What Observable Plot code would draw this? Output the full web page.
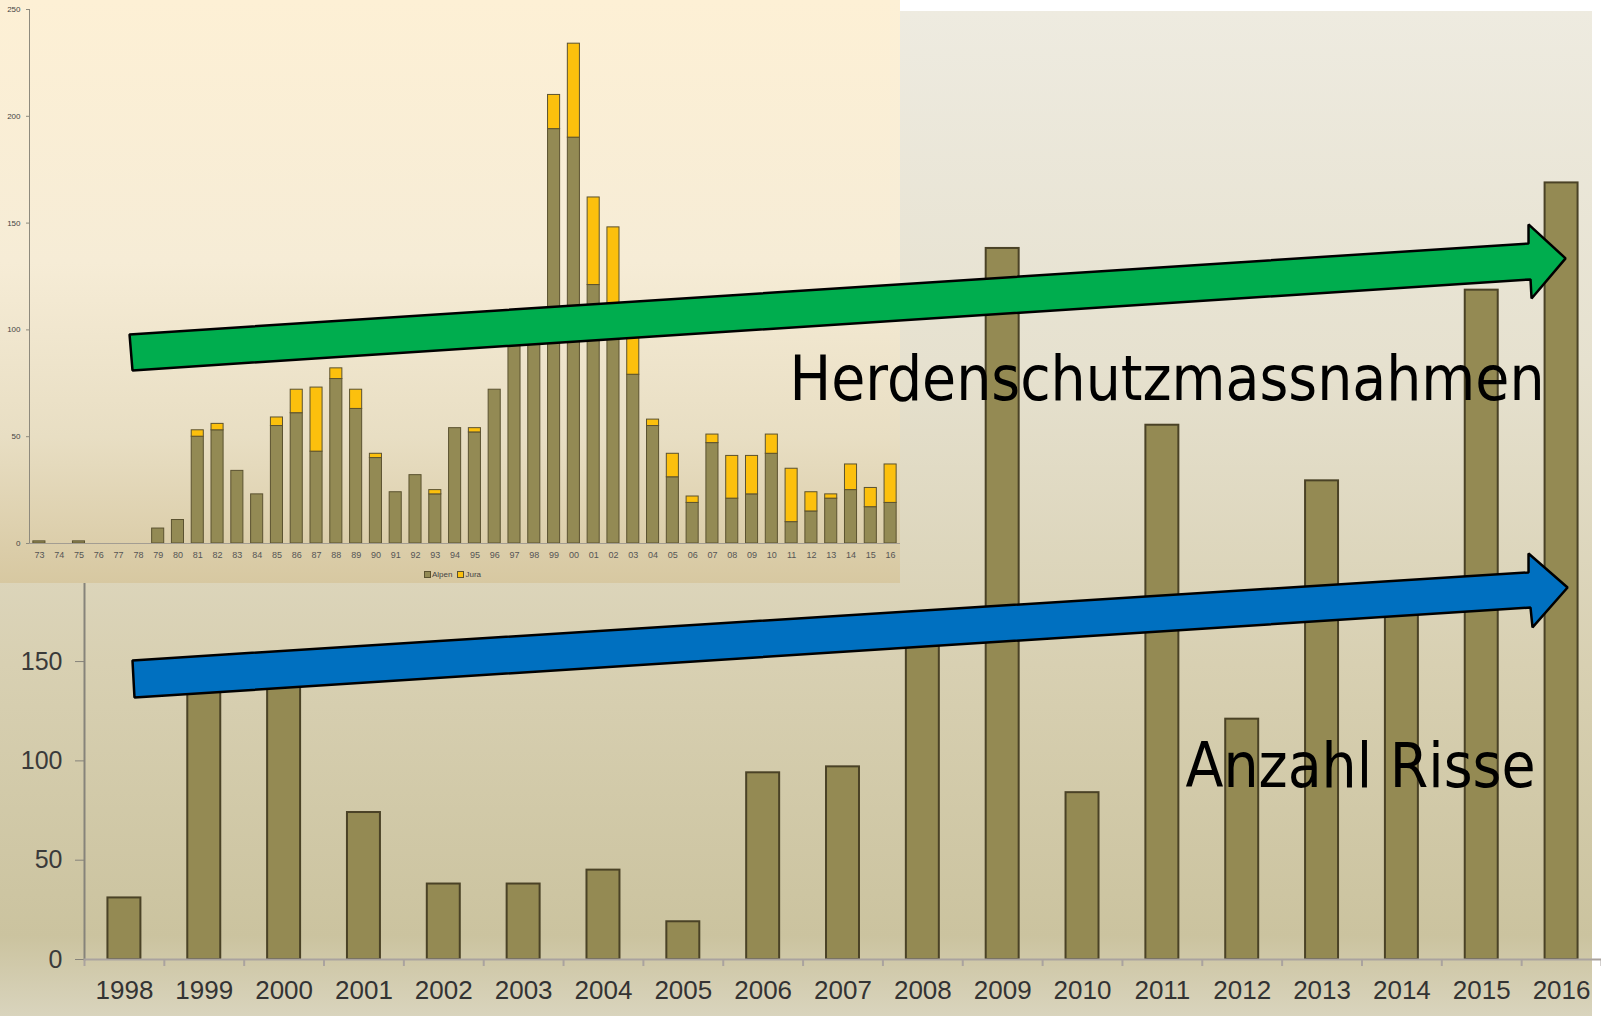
<!DOCTYPE html>
<html>
<head>
<meta charset="utf-8">
<script src="https://cdn.jsdelivr.net/npm/d3@7"></script>
<script src="https://cdn.jsdelivr.net/npm/@observablehq/plot@0.6"></script>
<style>
  html, body { margin: 0; padding: 0; background: #ffffff; }
  #wrap { position: relative; width: 1601px; height: 1016px; overflow: hidden; background: #ffffff; }
  .layer { position: absolute; left: 0; top: 0; }
  #bg { position: absolute; left: 0; top: 11px; width: 1592px; height: 1005px;
        background: linear-gradient(to bottom, #eeebe0 0%, #e6e1cf 35%, #d8d0b2 65%, #cbc39f 92%, #d9d4bd 100%); }
  #insetBox { position: absolute; left: 0; top: 0; width: 900px; height: 583px;
        background: linear-gradient(to bottom, #fdf0d5 0%, #f6ecd6 45%, #e8dec3 75%, #d7c8a1 100%); }
  #legend { position: absolute; left: 424px; top: 570px; font: 8px "Liberation Sans", Arial, sans-serif; color: #444; white-space: nowrap; }
  #legend span.sw { display: inline-block; width: 5px; height: 5px; border: 1px solid #5b5230; margin-right: 1px; vertical-align: -1px; }
  #legend span.item { margin-right: 5px; }
</style>
</head>
<body>
<div id="wrap">
  <div id="bg"></div>
  <div id="main" class="layer"></div>
  <div id="insetBox"><div id="inset" class="layer"></div><div id="legend"></div></div>
  <div id="overlay" class="layer"></div>
</div>
<script>
// ---------- main chart data (Anzahl Risse) ----------
const years = ["1998","1999","2000","2001","2002","2003","2004","2005","2006","2007","2008","2009","2010","2011","2012","2013","2014","2015","2016"];
const risse = [31, 147, 152, 74, 38, 38, 45, 19, 94, 97, 165, 358, 84, 269, 121, 241, 180, 337, 391];
const yTicks = [0, 50, 100, 150, 200, 250, 300, 350, 400, 450];

// ---------- inset chart data ----------
const insetYears = ["73","74","75","76","77","78","79","80","81","82","83","84","85","86","87","88","89","90","91","92","93","94","95","96","97","98","99","00","01","02","03","04","05","06","07","08","09","10","11","12","13","14","15","16"];
const alpen = [1, 0, 1, 0, 0, 0, 7, 11, 50, 53, 34, 23, 55, 61, 43, 77, 63, 40, 24, 32, 23, 54, 52, 72, 97, 104, 194, 190, 121, 102, 79, 55, 31, 19, 47, 21, 23, 42, 10, 15, 21, 25, 17, 19];
const jura  = [0, 0, 0, 0, 0, 0, 0, 0, 3, 3, 0, 0, 4, 11, 30, 5, 9, 2, 0, 0, 2, 0, 2, 0, 0, 0, 16, 44, 41, 46, 21, 3, 11, 3, 4, 20, 18, 9, 25, 9, 2, 12, 9, 18];
const insetSeries = ["Alpen", "Jura"];
const insetColors = ["#938a54", "#fcc00d"];
const insetYTicks = [0, 50, 100, 150, 200, 250];

// ---------- annotations (in main-chart data units: year, value) ----------
const arrowGreen = [[1998.064, 314.7], [2015.586, 360.5], [2015.586, 370.1], [2016.05, 353.0], [2015.624, 332.8], [2015.611, 342.4], [1998.101, 296.6]];
const arrowBlue  = [[1998.101, 150.6], [2015.586, 194.9], [2015.586, 204.4], [2016.075, 187.3], [2015.636, 167.2], [2015.611, 177.2], [1998.126, 131.9]];
const labelTexts = ["Herdenschutzmassnahmen", "Anzahl Risse"];
const labelX = [2006.33, 2011.29];
const labelY = [281.5, 87.1];
const labelWidths = [755, 350];

// ---------- build main chart ----------
const mainData = years.map((y, i) => ({year: y, value: risse[i]}));
const W = 1601, H = 1016;
const M = {left: 84, right: 0, top: 11, bottom: 57};
const yMax = 477.3;

const main = Plot.plot({
  width: W, height: H,
  marginLeft: M.left, marginRight: M.right, marginTop: M.top, marginBottom: M.bottom,
  style: {background: "transparent", fontFamily: "'Liberation Sans', Arial, sans-serif", overflow: "visible"},
  x: {type: "band", domain: years, paddingInner: 0.587, paddingOuter: 0.2935, round: false},
  y: {domain: [0, yMax]},
  marks: [
    Plot.frame({anchor: "left", stroke: "#86837a", strokeWidth: 2}),
    Plot.barY(mainData, {x: "year", y: "value", fill: "#948a53", stroke: "#4a4226", strokeWidth: 2}),
    Plot.ruleY([0], {stroke: "#aaa39f", strokeWidth: 2}),
    Plot.axisY({ticks: yTicks, tickSize: 9, tickPadding: 13, fontSize: 25, fill: "#3a3a3a", stroke: "#86837a", label: null}),
    Plot.axisX({tickSize: 0, tickPadding: 21, fontSize: 26, fill: "#333333", label: null})
  ]
});
document.getElementById("main").appendChild(main);

// ---------- build inset chart ----------
const insetData = insetSeries.flatMap((s, si) =>
  insetYears.map((y, i) => ({year: y, series: s, value: si === 0 ? alpen[i] : jura[i]}))
).filter(d => d.value > 0);

const inset = Plot.plot({
  width: 900, height: 583,
  marginLeft: 29, marginRight: 0, marginTop: 9, marginBottom: 40,
  style: {background: "transparent", fontFamily: "'Liberation Sans', Arial, sans-serif", overflow: "visible"},
  x: {type: "band", domain: insetYears, paddingInner: 0.39, paddingOuter: 0.195, round: false},
  y: {domain: [0, 250]},
  color: {domain: insetSeries, range: insetColors},
  marks: [
    Plot.frame({anchor: "left", stroke: "#8e8a7d"}),
    Plot.barY(insetData, {x: "year", y: "value", fill: "series", stroke: "#5b5230", strokeWidth: 1, order: insetSeries}),
    Plot.ruleY([0], {stroke: "#a39d92"}),
    Plot.axisY({ticks: insetYTicks, tickSize: 3, tickPadding: 6, fontSize: 8, fill: "#444", stroke: "#8e8a7d", label: null}),
    Plot.axisX({tickSize: 0, tickPadding: 8, fontSize: 9, fill: "#555", label: null})
  ]
});
document.getElementById("inset").appendChild(inset);

// legend of the inset
const legend = d3.select("#legend");
insetSeries.forEach((s, i) => {
  const item = legend.append("span").attr("class", "item");
  item.append("span").attr("class", "sw").style("background", insetColors[i]);
  item.append("span").text(s);
});

// ---------- overlay: separators, arrows, labels ----------
const seps = years.map(y => +y - 0.5).concat([+years[years.length - 1] + 0.5]);
const labels = labelTexts.map((t, i) => ({text: t, x: labelX[i], y: labelY[i]}));

const overlay = Plot.plot({
  width: W, height: H,
  marginLeft: M.left, marginRight: M.right, marginTop: M.top, marginBottom: M.bottom,
  style: {background: "transparent", overflow: "visible"},
  x: {domain: [+years[0] - 0.5, +years[years.length - 1] + 0.5]},
  y: {domain: [0, yMax], axis: null},
  marks: [
    Plot.axisX({ticks: seps, tickSize: 7, tickFormat: () => "", stroke: "#aaa39f", strokeWidth: 2, label: null}),
    Plot.line(arrowGreen, {x: d => d[0], y: d => d[1], curve: "linear-closed", fill: "#00ad4e", stroke: "#000", strokeWidth: 2.5, strokeLinejoin: "miter"}),
    Plot.line(arrowBlue, {x: d => d[0], y: d => d[1], curve: "linear-closed", fill: "#0070c0", stroke: "#000", strokeWidth: 2.5, strokeLinejoin: "miter"}),
    Plot.text(labels, {x: "x", y: "y", text: "text", textAnchor: "start", lineAnchor: "bottom", fontSize: 62, fill: "#000", fontFamily: "'DejaVu Sans Condensed', 'DejaVu Sans', Tahoma, sans-serif"})
  ]
});
document.getElementById("overlay").appendChild(overlay);
d3.select(overlay).selectAll("text").each(function () {
  const idx = labelTexts.indexOf(this.textContent);
  if (idx >= 0) {
    this.setAttribute("textLength", labelWidths[idx]);
    this.setAttribute("lengthAdjust", "spacingAndGlyphs");
  }
});
</script>
</body>
</html>
